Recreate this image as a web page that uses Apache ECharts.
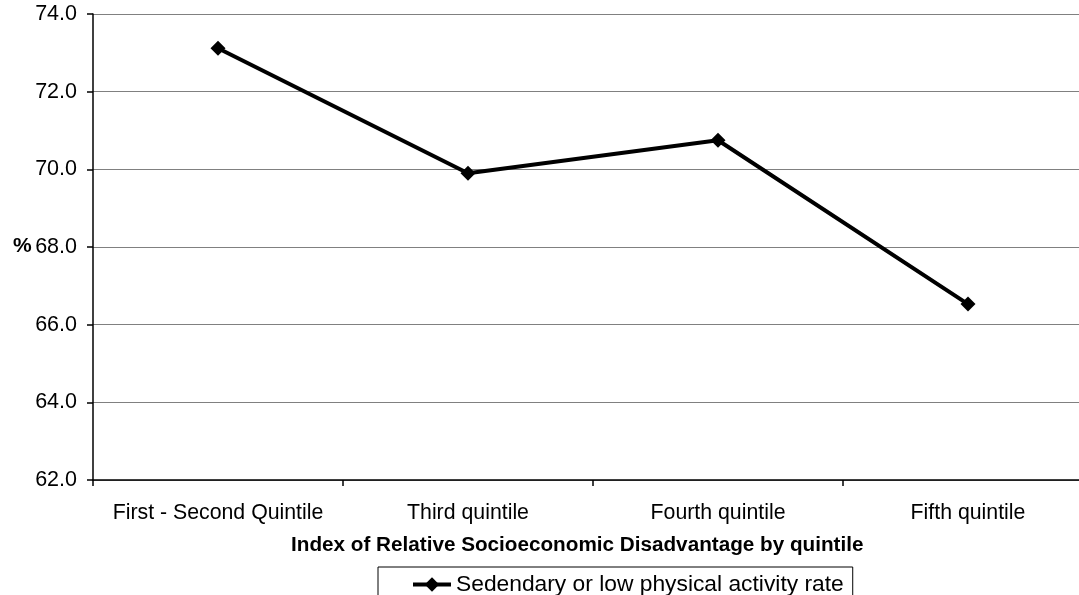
<!DOCTYPE html>
<html>
<head>
<meta charset="utf-8">
<script src="https://cdn.jsdelivr.net/npm/echarts@6/dist/echarts.min.js"></script>
<style>
  html, body { margin: 0; padding: 0; background: #fff; overflow: hidden; }
  /* canvas is wider than the window so the plot area runs past its right edge */
  #chart { width: 1100px; height: 595px; }
</style>
</head>
<body>
<div id="chart"></div>
<script>
// Quintile categories and the activity rate for each (%)
const categories = ['First - Second Quintile', 'Third quintile', 'Fourth quintile', 'Fifth quintile'];
const activityRate = [73.12, 69.9, 70.75, 66.53];
const seriesName = 'Sedendary or low physical activity rate';
const axisTitle = 'Index of Relative Socioeconomic Disadvantage by quintile';

const FONT = 'Liberation Sans, Arial, sans-serif';
const chart = echarts.init(document.getElementById('chart'), null, { renderer: 'canvas' });

chart.setOption({
  backgroundColor: '#ffffff',
  animation: false,
  grid: { left: 93, width: 1000, top: 14, bottom: 115, containLabel: false },
  xAxis: {
    type: 'category',
    data: categories,
    boundaryGap: true,
    axisLine: { lineStyle: { color: '#000', width: 1.5 } },
    axisTick: { show: true, length: 6, inside: false, lineStyle: { color: '#000', width: 1.5 } },
    axisLabel: { color: '#000', fontFamily: FONT, fontSize: 21.3, margin: 23, interval: 0 },
    splitLine: { show: false }
  },
  yAxis: {
    type: 'value',
    min: 62,
    max: 74,
    interval: 2,
    axisLine: { show: true, lineStyle: { color: '#000', width: 1.5 } },
    axisTick: { show: true, length: 6, lineStyle: { color: '#000', width: 1.5 } },
    axisLabel: {
      color: '#000', fontFamily: FONT, fontSize: 21.5, margin: 16,
      formatter: v => v.toFixed(1)
    },
    splitLine: { show: true, lineStyle: { color: '#808080', width: 1 } }
  },
  legend: {
    show: true,
    left: 378,
    top: 567,
    data: [seriesName],
    orient: 'horizontal',
    backgroundColor: '#fff',
    borderColor: '#000',
    borderWidth: 1,
    padding: [6, 9, 20, 33],
    itemWidth: 38,
    itemHeight: 18,
    itemGap: 5,
    lineStyle: { width: 4, color: '#000' },
    itemStyle: { color: '#000' },
    textStyle: { color: '#000', fontFamily: FONT, fontSize: 22.8 }
  },
  graphic: [
    {
      type: 'text',
      left: 291,
      top: 535,
      style: { text: axisTitle, font: 'bold 20.7px ' + FONT, fill: '#000' }
    },
    {
      type: 'text',
      left: 13,
      top: 236,
      style: { text: '%', font: 'bold 21px ' + FONT, fill: '#000' }
    }
  ],
  series: [{
    name: seriesName,
    type: 'line',
    data: activityRate,
    symbol: 'diamond',
    symbolSize: 15,
    itemStyle: { color: '#000' },
    lineStyle: { color: '#000', width: 4 },
    label: { show: false }
  }]
});
</script>
</body>
</html>
